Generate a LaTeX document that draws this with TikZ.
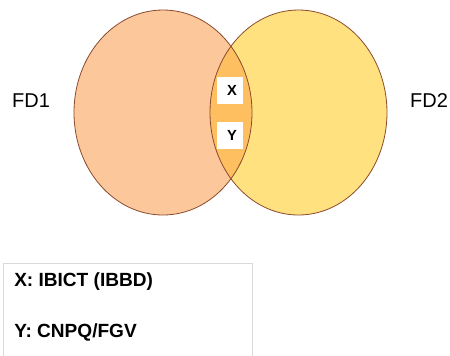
\documentclass[tikz,border=0pt]{standalone}
\usepackage{fontspec}
\setmainfont{Liberation Sans}
\definecolor{leftfill}{HTML}{FCC89B}
\definecolor{rightfill}{HTML}{FFE17F}
\definecolor{midfill}{HTML}{FDBF60}
\definecolor{rim}{HTML}{8B4A2E}
\begin{document}
\begin{tikzpicture}[x=0.75pt,y=-0.75pt,
    label/.style={font=\fontsize{15}{18}\selectfont, inner sep=0pt},
    tag/.style={fill=white, minimum width=19.5pt, minimum height=20pt, inner sep=0pt, font=\fontsize{11}{13}\selectfont\bfseries}]
    \useasboundingbox (0,0) rectangle (450,355);
    % circles
    \fill[leftfill] (163,112.5) ellipse (89 and 102.5);
    \fill[rightfill] (298.5,112.5) ellipse (88.5 and 102.5);
    \begin{scope}
        \clip (163,112.5) ellipse (89 and 102.5);
        \fill[midfill] (298.5,112.5) ellipse (88.5 and 102.5);
    \end{scope}
    \draw[rim, line width=0.6pt] (163,112.5) ellipse (89 and 102.5);
    \draw[rim, line width=0.6pt] (298.5,112.5) ellipse (88.5 and 102.5);

    \node[tag] (x) at (230,90.5) {\hspace*{3pt}X};
    \node[tag] (y) at (230,135.5) {\hspace*{3pt}Y};

    \node[label] (fd1) at (31,101) {FD1};
    \node[label] (fd2) at (429,101) {FD2};

    % legend
    \draw[black!15] (252,380) -- (252,263) -- (3,263) -- (3,380);
    \node[label, font=\fontsize{14.3}{17}\selectfont\bfseries, anchor=west] (lx) at (14,282) {X: IBICT (IBBD)};
    \node[label, font=\fontsize{14.3}{17}\selectfont\bfseries, anchor=west] (ly) at (14,332) {Y: CNPQ/FGV};
\end{tikzpicture}
\end{document}
